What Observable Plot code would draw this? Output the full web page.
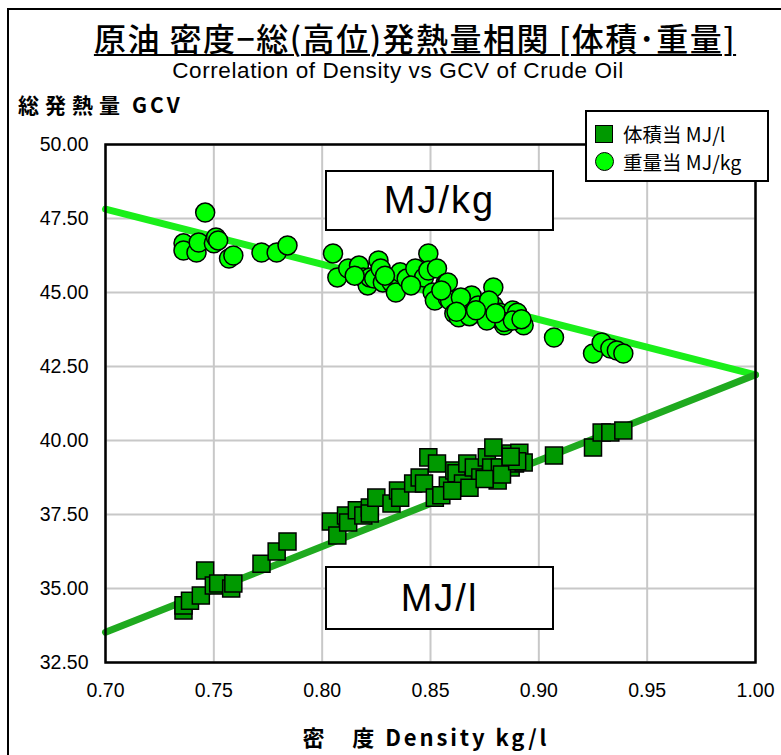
<!DOCTYPE html>
<html><head><meta charset="utf-8">
<script src="https://cdn.jsdelivr.net/npm/d3@7"></script>
<script src="https://cdn.jsdelivr.net/npm/@observablehq/plot@0.6"></script>
<style>
body{margin:0;background:#fff;}
#wrap{position:relative;width:781px;height:755px;overflow:hidden;font-family:"Liberation Sans",Arial,sans-serif;color:#000;}
#chart{position:absolute;left:0;top:0;}
.ov{position:absolute;white-space:nowrap;}
#outer{position:absolute;left:7px;top:8px;width:900px;height:900px;border:2px solid #000;pointer-events:none;}
#title{left:0;width:830px;text-align:center;top:17px;font-family:"Noto Sans CJK JP",sans-serif;font-weight:500;font-size:32px;line-height:40px;text-decoration:underline;text-decoration-thickness:2px;text-underline-offset:3px;letter-spacing:1.5px;}
#sub{left:0;width:796px;text-align:center;top:57px;font-size:22.5px;line-height:28px;letter-spacing:0.6px;}
#ylab{left:18px;top:91px;font-family:"Noto Sans CJK JP",sans-serif;font-weight:bold;font-size:21px;line-height:26px;}
#ylab .jp{letter-spacing:6px;}
#ylab .en{letter-spacing:3px;margin-left:6px;}
#xlab{left:0;width:852px;text-align:center;top:722px;font-family:"Noto Sans CJK JP",sans-serif;font-weight:bold;font-size:22px;line-height:28px;letter-spacing:2.9px;}
.box{position:absolute;background:#fff;border:2px solid #000;display:flex;align-items:center;justify-content:center;font-size:38px;letter-spacing:2px;}
#legend{position:absolute;left:585px;top:110px;width:180px;height:68px;background:#fff;border:2px solid #000;font-family:"Noto Sans CJK JP",sans-serif;font-size:19.5px;}
.li{position:absolute;left:8px;display:flex;align-items:center;}
.sq{width:16px;height:16px;background:#009900;border:1.5px solid #000;margin-right:10px;}
.ci{width:17px;height:17px;border-radius:50%;background:#00ff00;border:1.5px solid #000;margin-right:9px;}
</style></head><body>
<div id="wrap">
<div id="chart"></div>
<div id="outer"></div>
<div class="ov" id="title">原油 密度−総(高位)発熱量相関 [体積･重量]</div>
<div class="ov" id="sub">Correlation of Density vs GCV of Crude Oil</div>
<div class="ov" id="ylab"><span class="jp">総発熱量</span><span class="en">GCV</span></div>
<div class="ov" id="xlab">密　度 Density kg/l</div>
<div class="box" style="left:325px;top:170px;width:225px;height:57px;">MJ/kg</div>
<div class="box" style="left:325px;top:566px;width:225px;height:60px;">MJ/l</div>
<div id="legend">
  <div class="li" style="top:7px;"><div class="sq"></div><span>体積当 MJ/l</span></div>
  <div class="li" style="top:35px;"><div class="ci"></div><span>重量当 MJ/kg</span></div>
</div>
</div>
<script>
// Tick labels
const xTicks = [0.70, 0.75, 0.80, 0.85, 0.90, 0.95, 1.00];
const yTicks = [32.5, 35.0, 37.5, 40.0, 42.5, 45.0, 47.5, 50.0];

// GCV per mass (MJ/kg) points: density, value
const massDensity = [0.736,0.736,0.742,0.743,0.750,0.751,0.752,0.757,0.759,0.746,0.772,0.779,0.784,
  0.805,0.807,0.812,0.817,0.819,0.821,0.822,0.824,0.826,0.827,0.828,0.832,0.834,0.836,0.839,0.843,
  0.849,0.847,0.849,0.853,0.851,0.852,0.857,0.858,0.858,0.859,0.861,0.863,0.865,0.866,0.870,0.874,
  0.875,0.879,0.879,0.881,0.882,0.884,0.887,0.888,0.890,0.893,0.907,0.925,0.929,0.933,0.936,0.939,
  0.855,0.869,0.872,0.877,0.864,0.815,0.829,0.841,
  0.868,0.876,0.884,0.862,0.888,0.892,0.871,0.880];
const massGCV = [46.66,46.42,46.35,46.69,46.66,46.86,46.76,46.15,46.25,47.70,46.35,46.35,46.59,
  46.32,45.51,45.81,45.91,45.51,45.24,45.51,45.47,46.08,45.81,45.34,45.34,45.00,45.68,45.47,45.81,
  46.32,45.51,45.74,45.81,45.00,44.73,45.30,44.80,45.34,44.73,44.29,44.16,44.46,44.46,44.73,44.29,
  44.22,44.56,45.17,44.12,44.32,43.89,44.16,44.39,44.32,43.89,43.48,42.94,43.31,43.11,43.04,42.94,
  45.07,44.90,44.56,44.73,44.83,45.57,45.57,45.24,
  44.20,44.05,44.00,44.35,44.05,44.10,44.40,44.30];

// GCV per volume (MJ/l) points: density, value
const volDensity = [0.736,0.736,0.739,0.744,0.746,0.750,0.752,0.758,0.759,0.772,0.779,0.784,
  0.804,0.807,0.811,0.812,0.816,0.819,0.822,0.822,0.825,0.832,0.835,0.836,0.842,0.845,0.847,0.849,
  0.852,0.853,0.858,0.861,0.862,0.865,0.867,0.870,0.873,0.876,0.878,0.879,0.881,0.882,0.887,0.887,
  0.889,0.891,0.893,0.907,0.925,0.929,0.933,0.939,
  0.855,0.860,0.868,0.875,0.883,0.890,0.887];
const volGCV = [34.26,34.43,34.59,34.76,35.61,35.10,35.17,35.00,35.17,35.84,36.25,36.59,
  37.26,36.79,37.47,37.23,37.64,37.47,37.74,37.53,38.07,37.87,38.31,38.07,38.55,38.75,38.55,39.43,
  38.07,39.22,38.48,38.99,38.89,38.55,39.22,39.09,38.75,39.43,39.09,39.76,38.65,39.09,39.56,39.09,
  39.22,39.59,39.26,39.49,39.76,40.27,40.27,40.34,
  38.15,38.30,38.40,38.70,38.85,39.30,39.45];

// Trend lines (end points)
const trendDensity = [0.70, 1.00];
const trendMass = [47.82, 42.22];
const trendVol = [33.52, 42.22];

const massPts = massDensity.map((d, i) => ({d, v: massGCV[i]}));
const volPts = volDensity.map((d, i) => ({d, v: volGCV[i]}));
const tMass = trendDensity.map((d, i) => ({d, v: trendMass[i]}));
const tVol = trendDensity.map((d, i) => ({d, v: trendVol[i]}));

const chart = Plot.plot({
  width: 781, height: 755,
  marginLeft: 105, marginRight: 26, marginTop: 144, marginBottom: 93,
  style: {background: "transparent", fontFamily: "'Liberation Sans', Arial, sans-serif", fontSize: "19px", color: "#000"},
  x: {domain: [0.70, 1.00]},
  y: {domain: [32.5, 50]},
  marks: [
    Plot.gridX(xTicks, {stroke: "#c8c8c8", strokeOpacity: 1, strokeWidth: 2}),
    Plot.gridY(yTicks, {stroke: "#c8c8c8", strokeOpacity: 1, strokeWidth: 2}),
    Plot.axisX(xTicks, {tickSize: 0, tickPadding: 21, tickFormat: d3.format(".2f"), label: null, fontSize: 19.5}),
    Plot.axisY(yTicks, {tickSize: 0, tickPadding: 17, tickFormat: d3.format(".2f"), label: null, fontSize: 19.5}),
    Plot.line(tMass, {x: "d", y: "v", stroke: "#1aef1a", strokeWidth: 7}),
    Plot.line(tVol, {x: "d", y: "v", stroke: "#1faa1f", strokeWidth: 7}),
    Plot.dot(volPts, {x: "d", y: "v", symbol: "square", r: 9.6, fill: "#009900", stroke: "#000", strokeWidth: 1.5}),
    Plot.dot(massPts, {x: "d", y: "v", symbol: "circle", r: 9.5, fill: "#00ff00", stroke: "#000", strokeWidth: 1.5}),
    Plot.frame({stroke: "#000", strokeWidth: 2.5})
  ]
});
document.getElementById("chart").appendChild(chart);
</script>
</body></html>
